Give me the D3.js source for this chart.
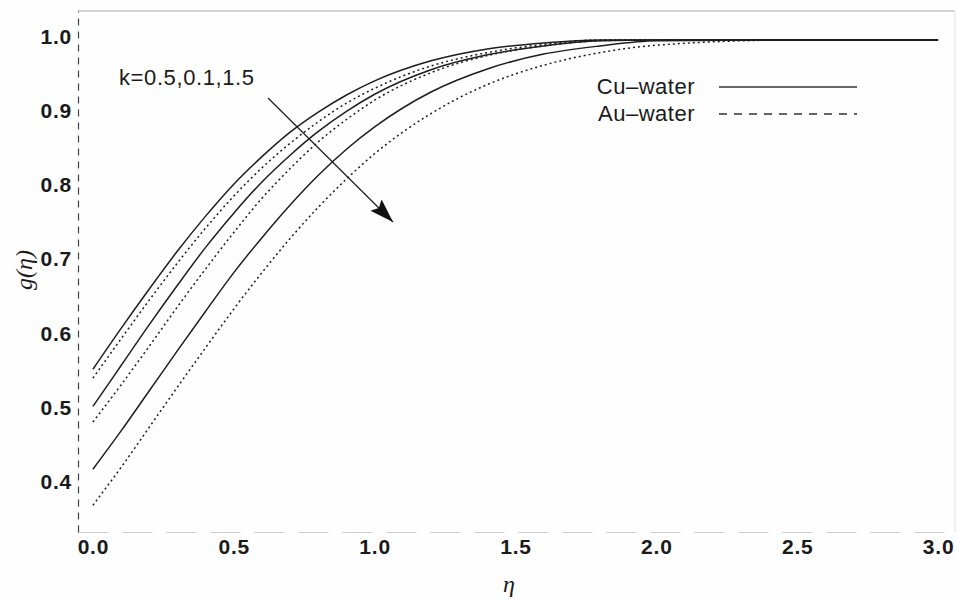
<!DOCTYPE html>
<html>
<head>
<meta charset="utf-8">
<script src="https://cdn.jsdelivr.net/npm/d3@7"></script>
<style>
  html, body { margin: 0; padding: 0; background: #fefefe; }
  svg { display: block; }
</style>
</head>
<body>
<script>
// Similarity variable eta and the g(eta) profiles for three values of k
const eta = [0, 0.1, 0.2, 0.3, 0.4, 0.5, 0.6, 0.7, 0.8, 0.9, 1.0, 1.2, 1.4, 1.6, 1.8, 2.0, 2.5, 3.0];

// Cu-water (solid)
const cuK1 = [0.552, 0.607, 0.660, 0.711, 0.758, 0.801, 0.838, 0.871, 0.898, 0.921, 0.940, 0.967, 0.983, 0.991, 0.995, 0.995, 0.995, 0.995];
const cuK2 = [0.502, 0.557, 0.612, 0.665, 0.716, 0.762, 0.804, 0.840, 0.872, 0.899, 0.922, 0.955, 0.975, 0.987, 0.994, 0.995, 0.995, 0.995];
const cuK3 = [0.4175, 0.469, 0.523, 0.577, 0.630, 0.682, 0.729, 0.773, 0.813, 0.848, 0.878, 0.925, 0.956, 0.976, 0.987, 0.994, 0.995, 0.995];

// Au-water (dotted)
const auK1 = [0.540, 0.593, 0.645, 0.695, 0.742, 0.785, 0.823, 0.856, 0.885, 0.910, 0.930, 0.960, 0.978, 0.989, 0.995, 0.995, 0.995, 0.995];
const auK2 = [0.481, 0.531, 0.583, 0.636, 0.687, 0.736, 0.782, 0.822, 0.858, 0.888, 0.914, 0.951, 0.974, 0.987, 0.994, 0.995, 0.995, 0.995];
const auK3 = [0.369, 0.420, 0.474, 0.528, 0.581, 0.633, 0.682, 0.728, 0.770, 0.808, 0.842, 0.896, 0.935, 0.961, 0.978, 0.988, 0.995, 0.995];

const xTicks = [0, 0.5, 1.0, 1.5, 2.0, 2.5, 3.0];
const yTicks = [0.4, 0.5, 0.6, 0.7, 0.8, 0.9, 1.0];

const legendNames = ["Cu\u2013water", "Au\u2013water"];
const annotation = "k=0.5,0.1,1.5";

const W = 957, H = 599;
const svg = d3.select("body").append("svg").attr("width", W).attr("height", H);

const x = d3.scaleLinear().domain([-0.053, 3.06]).range([78, 955]);
const y = d3.scaleLinear().domain([0.333, 1.034]).range([532, 11]);

const sans = "'Liberation Sans', Arial, sans-serif";
const serif = "'Liberation Serif', 'Times New Roman', serif";

// frame
svg.append("line").attr("x1", 78).attr("x2", 955).attr("y1", 11).attr("y2", 11)
  .attr("stroke", "#aaa").attr("stroke-width", 1);
svg.append("line").attr("x1", 955).attr("x2", 955).attr("y1", 11).attr("y2", 532)
  .attr("stroke", "#e4e4e4").attr("stroke-width", 1);

// axes
const fmt = d3.format(".1f");
const gx = svg.append("g").attr("transform", "translate(0,532)")
  .call(d3.axisBottom(x).tickValues(xTicks).tickFormat(fmt).tickSize(0).tickPadding(7));
const gy = svg.append("g").attr("transform", "translate(78,0)")
  .call(d3.axisLeft(y).tickValues(yTicks).tickFormat(fmt).tickSize(0).tickPadding(6));

gx.select(".domain").attr("stroke", "#cfcfcf").attr("stroke-dasharray", "30,14");
gy.select(".domain").attr("stroke", "#444").attr("stroke-width", 1.2).attr("stroke-dasharray", "7,6");
[gx, gy].forEach(g => g.selectAll("text")
  .attr("font-family", sans).attr("font-weight", "bold")
  .attr("font-size", 21).attr("letter-spacing", "0.8px").attr("fill", "#1a1a1a"));

// axis titles
svg.append("text").attr("transform", "translate(32,270) rotate(-90)")
  .attr("text-anchor", "middle")
  .attr("font-family", serif).attr("font-style", "italic")
  .attr("font-size", 24).attr("fill", "#1a1a1a")
  .text("g(\u03b7)");
svg.append("text").attr("x", 509).attr("y", 592).attr("text-anchor", "middle")
  .attr("font-family", serif).attr("font-style", "italic")
  .attr("font-size", 24).attr("fill", "#1a1a1a")
  .text("\u03b7");

// curves
const line = d3.line().x(d => x(d[0])).y(d => y(d[1])).curve(d3.curveMonotoneX);
const series = [
  { v: cuK1, dash: null }, { v: cuK2, dash: null }, { v: cuK3, dash: null },
  { v: auK1, dash: "2,3" }, { v: auK2, dash: "2,3" }, { v: auK3, dash: "2,3" }
];
series.forEach(s => {
  svg.append("path").datum(eta.map((e, i) => [e, s.v[i]]))
    .attr("d", line).attr("fill", "none")
    .attr("stroke", "#1e1e1e").attr("stroke-width", 1.5)
    .attr("stroke-dasharray", s.dash);
});

// annotation with arrow
svg.append("defs").append("marker").attr("id", "head")
  .attr("viewBox", "0 0 24 16").attr("refX", 24).attr("refY", 8)
  .attr("markerWidth", 24).attr("markerHeight", 16).attr("markerUnits", "userSpaceOnUse")
  .attr("orient", "auto")
  .append("path").attr("d", "M0,0 L24,8 L0,16 L4,8 Z").attr("fill", "#111");
svg.append("line").attr("x1", 268).attr("y1", 98).attr("x2", 393).attr("y2", 222)
  .attr("stroke", "#222").attr("stroke-width", 1.3).attr("marker-end", "url(#head)");
svg.append("text").attr("x", 119).attr("y", 85)
  .attr("font-family", sans).attr("font-size", 22).attr("letter-spacing", "0.6px")
  .attr("fill", "#1a1a1a").text(annotation);

// legend
const legend = svg.append("g");
legendNames.forEach((name, i) => {
  const ly = 87 + i * 27;
  legend.append("text").attr("x", 695).attr("y", ly + 7).attr("text-anchor", "end")
    .attr("font-family", sans).attr("font-size", 22).attr("letter-spacing", "0.5px")
    .attr("fill", "#1a1a1a").text(name);
  legend.append("line").attr("x1", 719).attr("x2", 857).attr("y1", ly).attr("y2", ly)
    .attr("stroke", "#333").attr("stroke-width", 1.5)
    .attr("stroke-dasharray", i === 0 ? null : "8,7");
});
</script>
</body>
</html>
